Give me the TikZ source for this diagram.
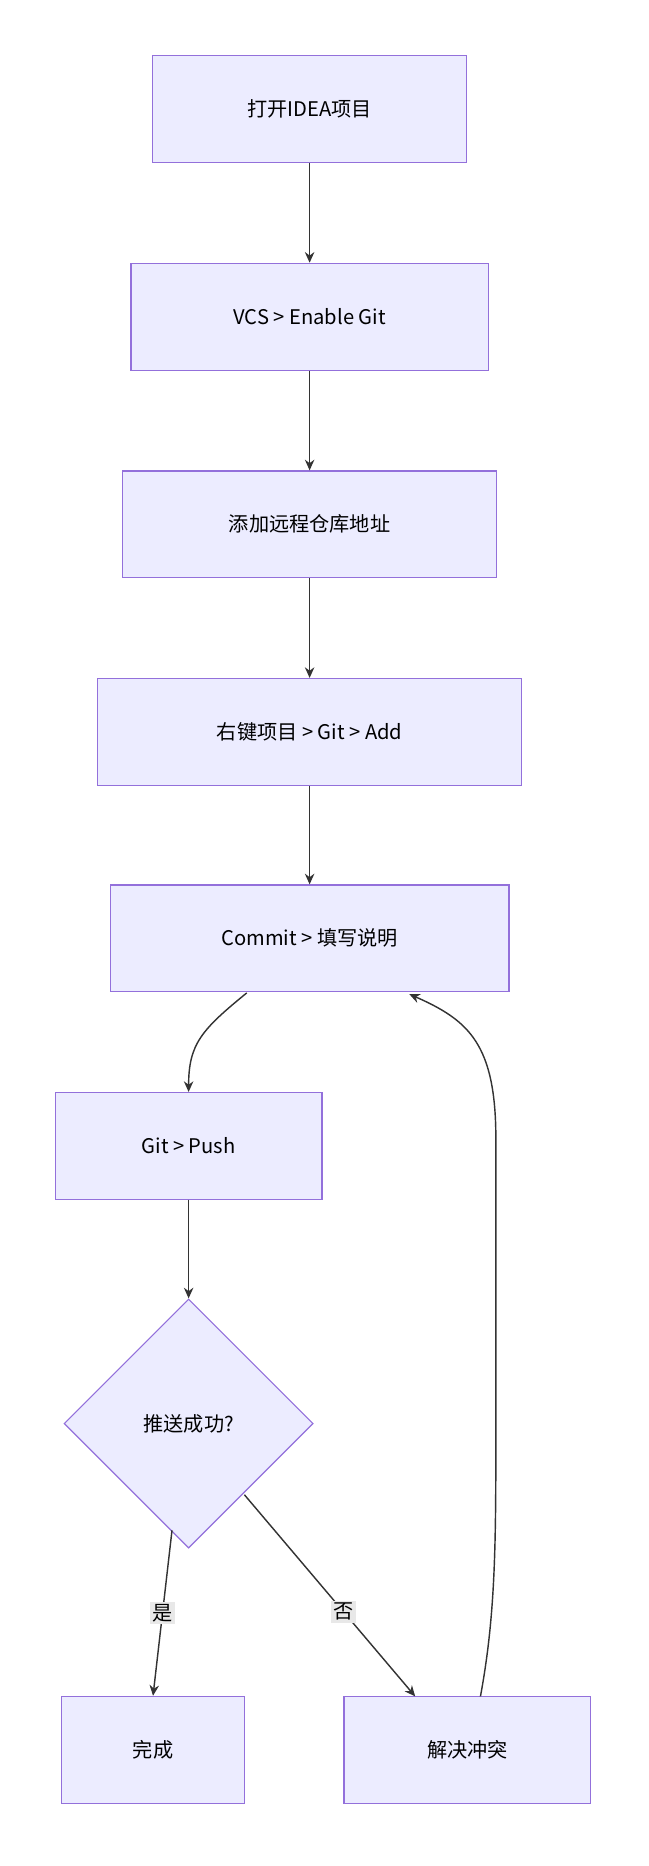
\documentclass[tikz,border=0pt]{standalone}
\usepackage{fontspec}
\setmainfont{Noto Sans CJK SC}
\usetikzlibrary{shapes.geometric,arrows.meta}
\tikzset{
  box/.style={rectangle,draw=flowline,fill=flowfill,line width=1pt,minimum height=90pt,inner sep=0pt,font=\fontsize{17}{20}\selectfont},
  decide/.style={diamond,draw=flowline,fill=flowfill,line width=1pt,minimum width=210pt,minimum height=210pt,inner sep=0pt,font=\fontsize{17}{20}\selectfont},
  link/.style={draw=edge,line width=1.2pt,-{Stealth[length=9pt,width=8pt]}},
  tag/.style={fill=tagbg,inner sep=2pt,font=\fontsize{17}{20}\selectfont}
}
\definecolor{flowline}{HTML}{9370DB}
\definecolor{flowfill}{HTML}{ECECFF}
\definecolor{edge}{HTML}{333333}
\definecolor{tagbg}{HTML}{E8E8E8}
\begin{document}
\begin{tikzpicture}[x=1pt,y=-1pt]
  \useasboundingbox (0,0) rectangle (547,1573);
  \node[box,minimum width=265pt] (open) at (261,92) {打开IDEA项目};
  \node[box,minimum width=301pt] (vcs) at (261,267) {VCS > Enable Git};
  \node[box,minimum width=315pt] (remote) at (261,442) {添加远程仓库地址};
  \node[box,minimum width=357pt] (add) at (261,617) {右键项目 > Git > Add};
  \node[box,minimum width=336pt] (commit) at (261,791) {Commit > 填写说明};
  \node[box,minimum width=225pt] (push) at (159,966) {Git > Push};
  \node[decide] (ok) at (159,1200) {推送成功?};
  \node[box,minimum width=154pt] (done) at (129,1475) {完成};
  \node[box,minimum width=208pt] (fix) at (394,1475) {解决冲突};

  \draw[link] (open) -- (vcs);
  \draw[link] (vcs) -- (remote);
  \draw[link] (remote) -- (add);
  \draw[link] (add) -- (commit);
  \draw[link] (208,837) .. controls (170,868) and (159,880) .. (push.north);
  \draw[link] (push) -- (ok);
  \draw[link] (145,1290) -- node[tag] {是} (done.north);
  \draw[link] (206,1260) -- node[tag,pos=0.58] {否} (350,1430);
  \draw[link] (405,1430) .. controls (418,1360) and (418,1300) .. (418,1200)
    -- (418,960) .. controls (418,880) and (395,860) .. (345,838);
\end{tikzpicture}
\end{document}
